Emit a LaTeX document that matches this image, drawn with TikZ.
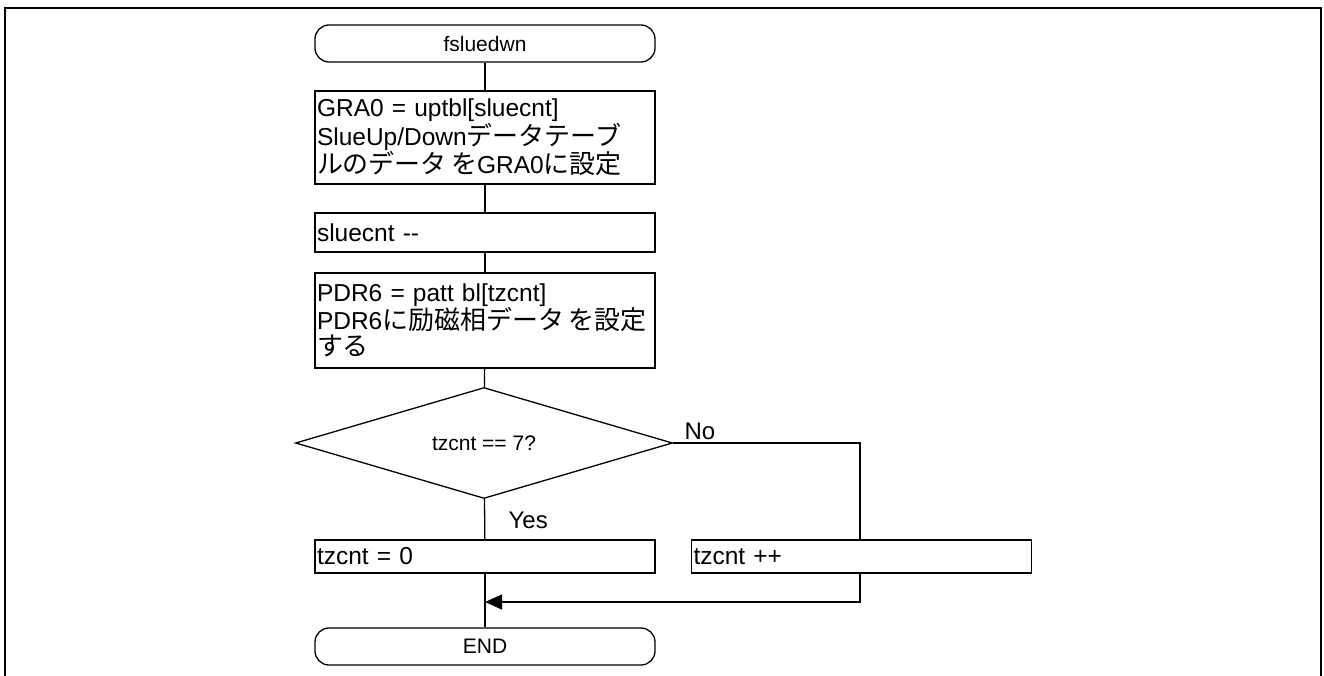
\documentclass[tikz,border=0pt]{standalone}
\usepackage{fontspec}
\setmainfont{Liberation Sans}
\newfontfamily\jp[Scale=1.06]{Noto Sans CJK JP}
\usetikzlibrary{shapes.geometric,arrows.meta}
\begin{document}
\begin{tikzpicture}[x=1pt,y=-1pt,
  line width=1.3pt,
  proc/.style={draw, rectangle, minimum width=340pt, text width=336pt, align=left, inner sep=2pt, anchor=center, font=\fontsize{24.5}{26}\selectfont},
  term/.style={draw, rectangle, rounded corners=14pt, minimum width=340pt, minimum height=37pt, inner sep=0pt, font=\fontsize{21}{24}\selectfont},
  dec/.style={draw, diamond, minimum width=377pt, minimum height=111pt, inner sep=0pt, aspect=3.4, font=\fontsize{21}{24}\selectfont},
  lbl/.style={inner sep=0pt, font=\fontsize{24}{26}\selectfont},
  flow/.style={line width=1.3pt},
  tip/.style={-{Triangle[length=17pt,width=15pt]}}
]
\useasboundingbox (0,0) rectangle (1324,676);
\draw[line width=2pt] (5,676) -- (5,8) -- (1321,8) -- (1321,676);

\node[term] (start) at (485,43.5) {fsluedwn};
\node[proc, minimum height=93pt] (b1) at (485,137.5) {GRA0 = uptbl[sluecnt]\\\mbox{SlueUp/Down{\jp データテーブ}}\\\mbox{{\jp ルのデータ\,を}GRA0{\jp に設定}}};
\node[proc, minimum height=39pt] (b2) at (485,232.5) {sluecnt {-}{-}};
\node[proc, minimum height=95pt] (b3) at (485,320.5) {PDR6 = patt bl[tzcnt]\\\mbox{PDR6{\jp に励磁相データ\,を設定}}\\{\jp する}};
\node[dec] (d) at (484,443) {tzcnt == 7?};
\node[proc, minimum height=33pt] (z) at (485,556.5) {tzcnt = 0};
\node[proc, minimum height=33pt] (inc) at (861.5,556.5) {tzcnt ++};
\node[term] (end) at (485,646.5) {END};

\coordinate (ncorner) at (860,443);
\coordinate (rb) at (860,602);
\coordinate (join) at (485,602);

\draw[flow] (start) -- (b1);
\draw[flow] (b1) -- (b2);
\draw[flow] (b2) -- (b3);
\draw[flow] (b3) -- (d);
\draw[flow] (d) -- (z);
\draw[flow] (d.east) -- (ncorner) -- (inc.north -| ncorner);
\draw[flow] (z) -- (end);
\draw[flow,tip] (inc.south -| rb) -- (rb) -- (join);

\node[lbl, anchor=south west] (no) at (684,440) {No};
\node[lbl, anchor=west] (yes) at (508,520) {Yes};
\end{tikzpicture}
\end{document}
